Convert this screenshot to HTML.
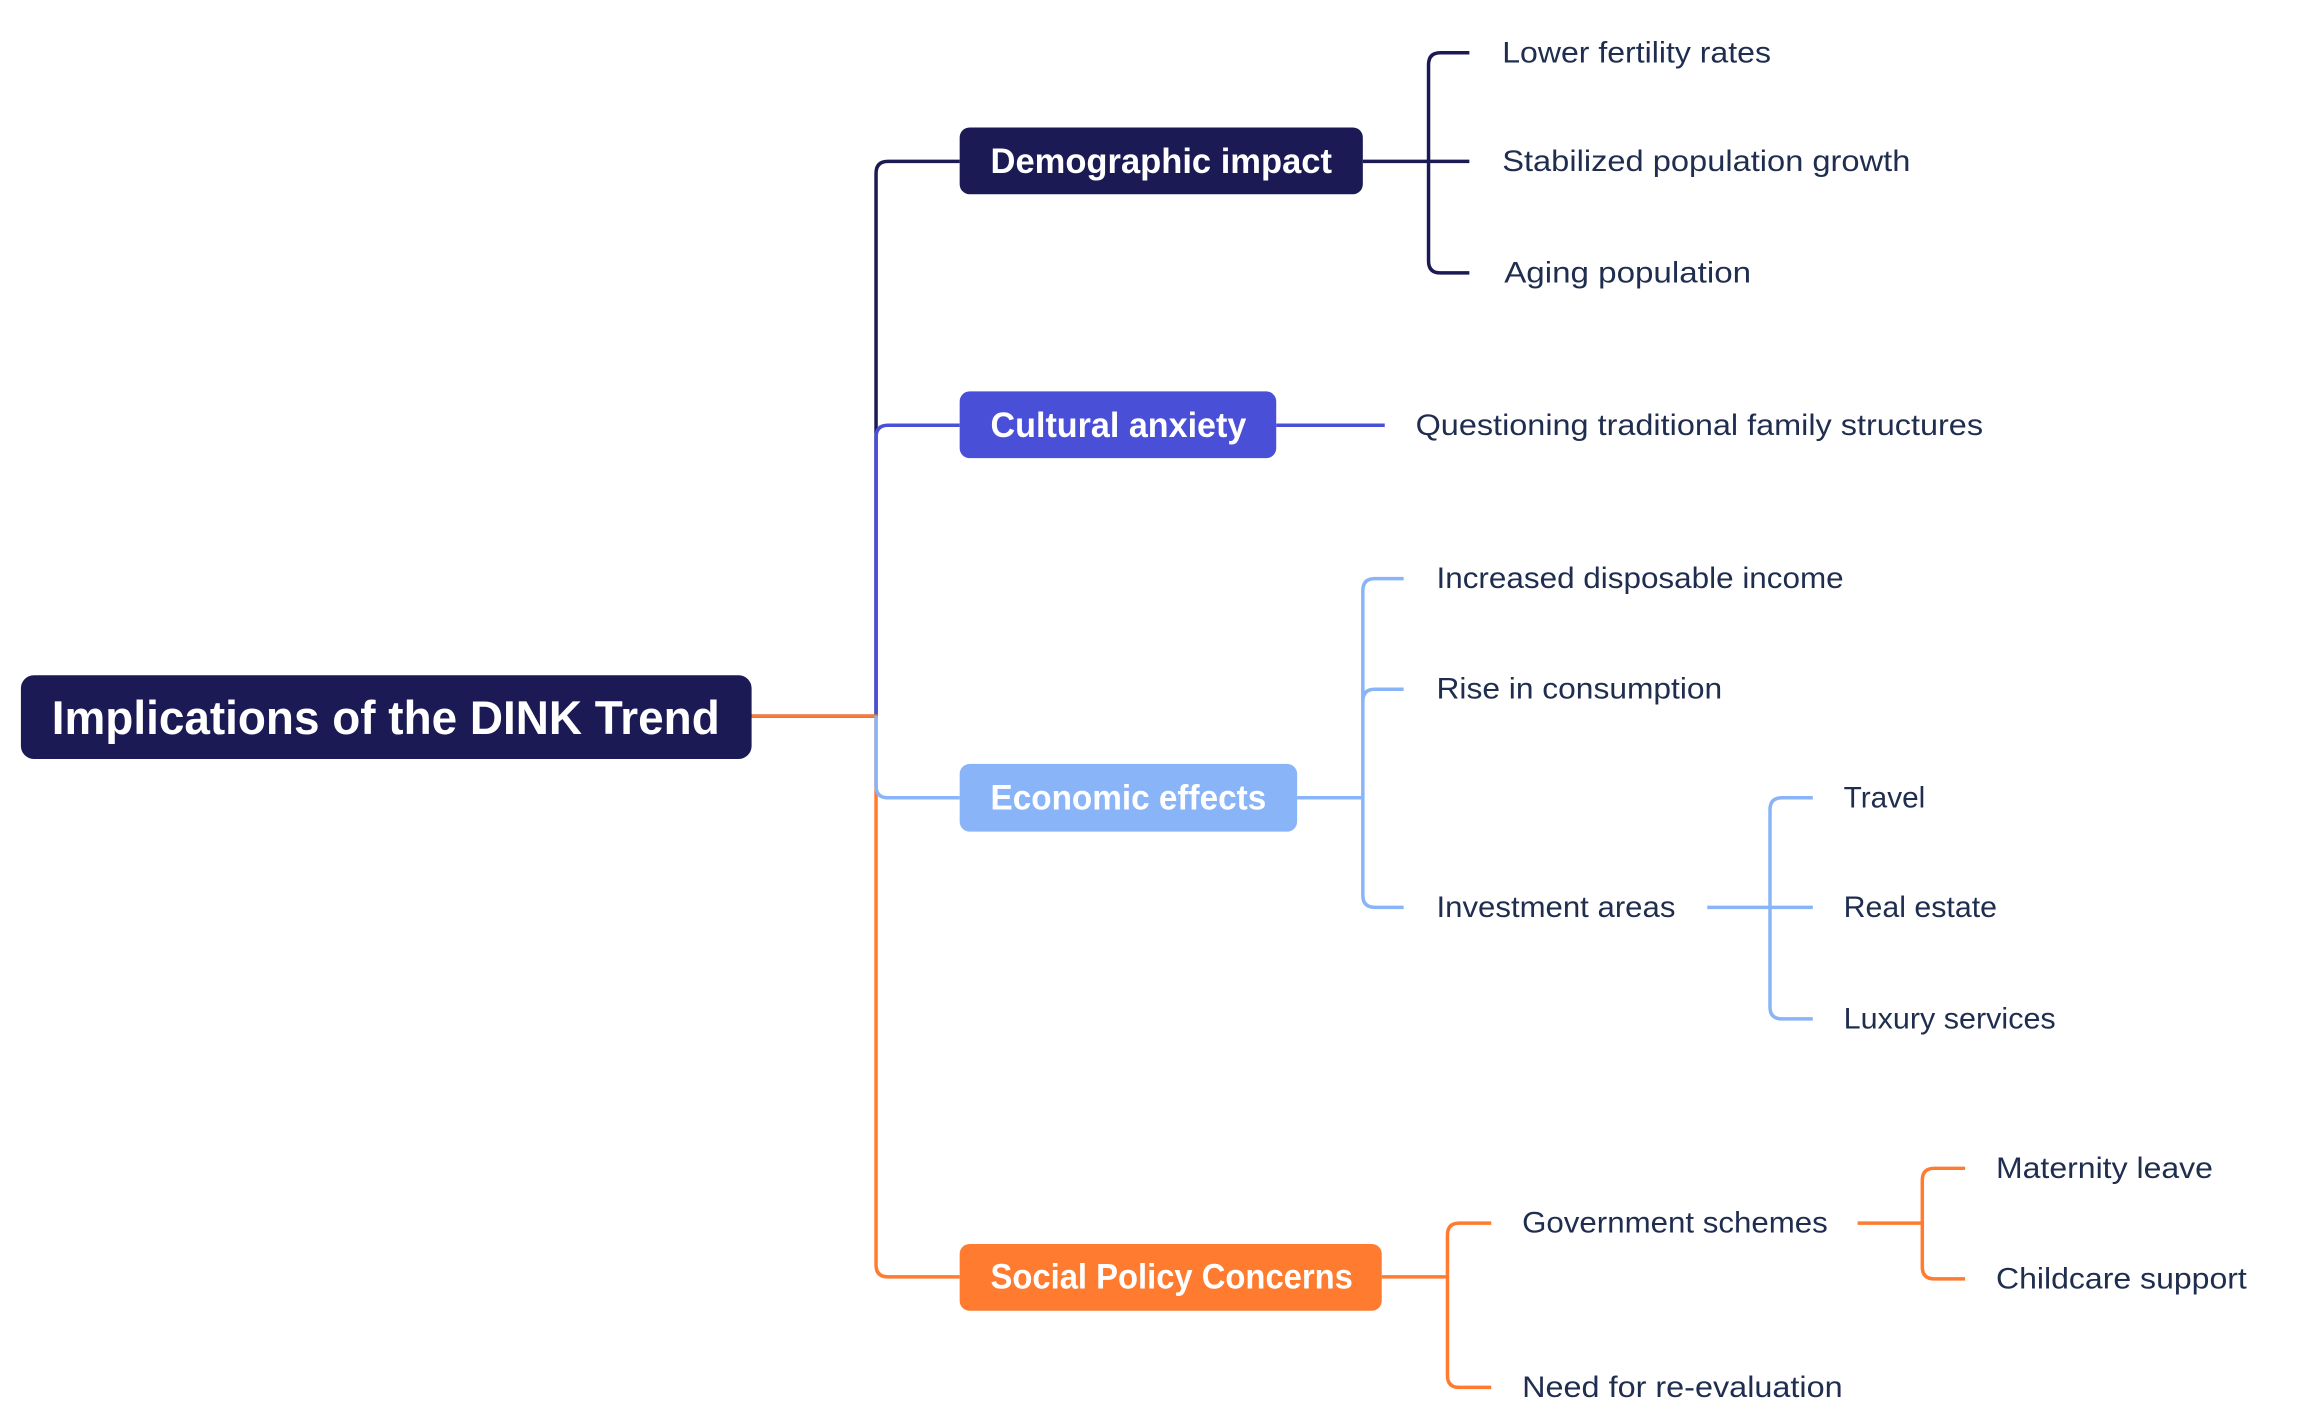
<!DOCTYPE html>
<html><head><meta charset="utf-8"><style>
html,body{margin:0;padding:0;background:#fff;}
svg{display:block;}
text{font-family:"Liberation Sans",sans-serif;}
.n{fill:#fff;font-weight:bold;font-size:35px;}
.t{fill:#1f2d4f;font-size:30px;}
</style></head><body>
<svg width="2298" height="1424" viewBox="0 0 2298 1424" xmlns="http://www.w3.org/2000/svg">
<g transform="scale(0.9955 0.996)">
<g fill="none" stroke-width="3.5">
<path d="M755 719 H880 V174 Q880 162 892 162 H964" stroke="#1b1a55"/>
<path d="M880 719 V439 Q880 427 892 427 H964" stroke="#4a4fd8"/>
<path d="M755 719 H880 V1270 Q880 1282 892 1282 H964" stroke="#ff7b30"/>
<path d="M880 719 V789 Q880 801 892 801 H964" stroke="#8ab4f8"/>
<g stroke="#1b1a55">
<path d="M1369 162 H1476"/>
<path d="M1476 53 H1447 Q1435 53 1435 65 V262 Q1435 274 1447 274 H1476"/>
</g>
<path d="M1282 427 H1391" stroke="#4a4fd8"/>
<g stroke="#8ab4f8">
<path d="M1303 801 H1369"/>
<path d="M1410 581 H1381 Q1369 581 1369 593 V899 Q1369 911 1381 911 H1410"/>
<path d="M1369 704 Q1369 692 1381 692 H1410"/>
<path d="M1715 911 H1778"/>
<path d="M1821 801 H1790 Q1778 801 1778 813 V1011 Q1778 1023 1790 1023 H1821"/>
<path d="M1778 911 H1821"/>
</g>
<g stroke="#ff7b30">
<path d="M1388 1282 H1454"/>
<path d="M1498 1228 H1466 Q1454 1228 1454 1240 V1381 Q1454 1393 1466 1393 H1498"/>
<path d="M1866 1228 H1931"/>
<path d="M1974 1173 H1943 Q1931 1173 1931 1185 V1272 Q1931 1284 1943 1284 H1974"/>
</g>
</g>
<rect x="21" y="678" width="734" height="84" rx="13" fill="#1b1a55"/>
<text x="52" y="721" dominant-baseline="central" fill="#fff" font-weight="bold" font-size="47" textLength="671" lengthAdjust="spacingAndGlyphs">Implications of the DINK Trend</text>
<rect x="964" y="128" width="405" height="67" rx="10" fill="#1b1a55"/>
<text class="n" x="995" y="162" dominant-baseline="central" textLength="343" lengthAdjust="spacingAndGlyphs">Demographic impact</text>
<rect x="964" y="393" width="318" height="67" rx="10" fill="#4a4fd8"/>
<text class="n" x="995" y="427" dominant-baseline="central" textLength="257" lengthAdjust="spacingAndGlyphs">Cultural anxiety</text>
<rect x="964" y="767" width="339" height="68" rx="10" fill="#8ab4f8"/>
<text class="n" x="995" y="801" dominant-baseline="central" textLength="277" lengthAdjust="spacingAndGlyphs">Economic effects</text>
<rect x="964" y="1249" width="424" height="67" rx="10" fill="#ff7b30"/>
<text class="n" x="995" y="1282" dominant-baseline="central" textLength="364" lengthAdjust="spacingAndGlyphs">Social Policy Concerns</text>
<text class="t" x="1509" y="53" dominant-baseline="central" textLength="270" lengthAdjust="spacingAndGlyphs">Lower fertility rates</text>
<text class="t" x="1509" y="162" dominant-baseline="central" textLength="410" lengthAdjust="spacingAndGlyphs">Stabilized population growth</text>
<text class="t" x="1511" y="274" dominant-baseline="central" textLength="248" lengthAdjust="spacingAndGlyphs">Aging population</text>
<text class="t" x="1422" y="427" dominant-baseline="central" textLength="570" lengthAdjust="spacingAndGlyphs">Questioning traditional family structures</text>
<text class="t" x="1443" y="581" dominant-baseline="central" textLength="409" lengthAdjust="spacingAndGlyphs">Increased disposable income</text>
<text class="t" x="1443" y="692" dominant-baseline="central" textLength="287" lengthAdjust="spacingAndGlyphs">Rise in consumption</text>
<text class="t" x="1443" y="911" dominant-baseline="central" textLength="240" lengthAdjust="spacingAndGlyphs">Investment areas</text>
<text class="t" x="1852" y="801" dominant-baseline="central" textLength="82" lengthAdjust="spacingAndGlyphs">Travel</text>
<text class="t" x="1852" y="911" dominant-baseline="central" textLength="154" lengthAdjust="spacingAndGlyphs">Real estate</text>
<text class="t" x="1852" y="1023" dominant-baseline="central" textLength="213" lengthAdjust="spacingAndGlyphs">Luxury services</text>
<text class="t" x="1529" y="1228" dominant-baseline="central" textLength="307" lengthAdjust="spacingAndGlyphs">Government schemes</text>
<text class="t" x="1529" y="1393" dominant-baseline="central" textLength="322" lengthAdjust="spacingAndGlyphs">Need for re-evaluation</text>
<text class="t" x="2005" y="1173" dominant-baseline="central" textLength="218" lengthAdjust="spacingAndGlyphs">Maternity leave</text>
<text class="t" x="2005" y="1284" dominant-baseline="central" textLength="252" lengthAdjust="spacingAndGlyphs">Childcare support</text>
</g>
</svg>
</body></html>
